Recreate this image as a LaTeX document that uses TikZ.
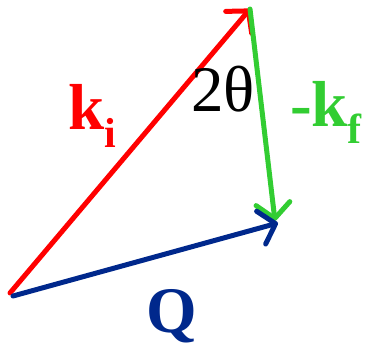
\documentclass[tikz,border=0pt]{standalone}
\usepackage{fontspec}
\setmainfont{Liberation Serif}
\usepackage{tikz}
\usepackage{xcolor}
\usetikzlibrary{arrows.meta}

\definecolor{kired}{RGB}{255,0,0}
\definecolor{kfgreen}{RGB}{50,205,50}
\definecolor{qblue}{RGB}{0,40,140}

\begin{document}
\begin{tikzpicture}[x=1pt, y=-1pt, every node/.style={font=\fontsize{65}{65}\selectfont, inner sep=0pt},
    vec/.style={line width=5pt, line cap=round, -{Straight Barb[length=15pt, width=34pt, round]}}]
        \useasboundingbox (0,0) rectangle (367,352);
        \coordinate (o) at (10,293);
        \coordinate (top) at (250,9);
        \coordinate (tip) at (278,223);
        \draw[vec, kired] (o) -- (top);
        \draw[vec, kfgreen] (top) -- ([shift={(-3,-2)}]tip);
        \draw[vec, qblue] ([shift={(3,3)}]o) -- (tip);
        \node[anchor=base west, text=kired] (ki) at (68,130) {\textbf{k}\raisebox{-18pt}{\fontsize{42}{42}\selectfont\bfseries i}};
        \node[anchor=base west] (angle) at (191,112) {2θ};
        \node[anchor=base west, text=kfgreen] (kf) at (290,127) {\textbf{-k}\raisebox{-17pt}{\fontsize{42}{42}\selectfont\bfseries f}};
        \node[anchor=base, text=qblue] (q) at (172,333) {\textbf{Q}};
      \end{tikzpicture}
\end{document}
